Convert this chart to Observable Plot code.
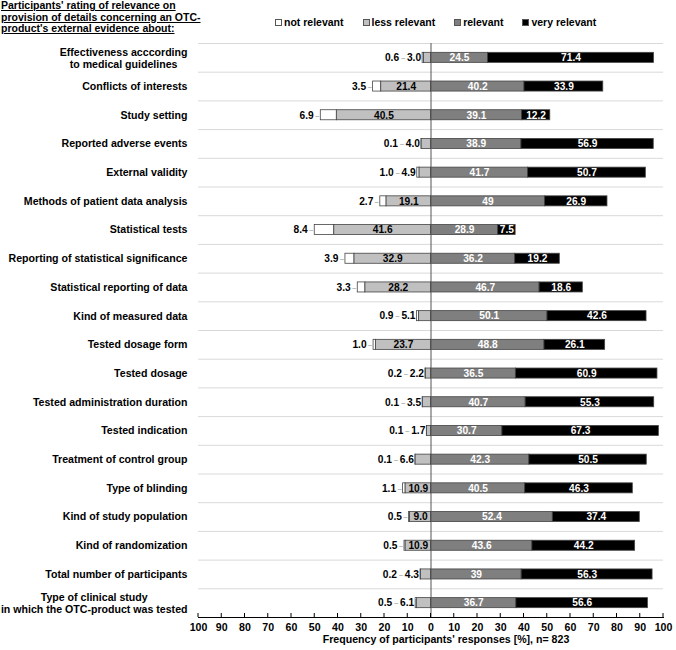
<!DOCTYPE html>
<html>
<head>
<meta charset="utf-8">
<script src="https://cdn.jsdelivr.net/npm/d3@7"></script>
<script src="https://cdn.jsdelivr.net/npm/@observablehq/plot@0.6"></script>
<style>
  body { margin: 0; background: #fff; font-family: "Liberation Sans", Arial, sans-serif; }
  #wrap { position: relative; width: 676px; height: 650px; }
  #header { position: relative; height: 42px; }
  #title { position: absolute; left: 1px; top: 0px; font-weight: bold; font-size: 10.5px; line-height: 11.5px; text-decoration: underline; color: #000; }
  #legend { position: absolute; left: 275px; top: 16px; display: flex; gap: 19px; font-weight: bold; font-size: 10.5px; }
  .item { display: flex; align-items: center; gap: 2px; }
  .sw { width: 5px; height: 5px; border: 1px solid #555; display: inline-block; }
  svg { display: block; }
</style>
</head>
<body>
<div id="wrap">
  <div id="header">
    <div id="title">Participants' rating of relevance on<br>provision of details concerning an OTC-<br>product's external evidence about:</div>
    <div id="legend"></div>
  </div>
  <div id="chart"></div>
</div>
<script>
const categories = [
  "Effectiveness acccording\nto medical guidelines",
  "Conflicts of interests",
  "Study setting",
  "Reported adverse events",
  "External validity",
  "Methods of patient data analysis",
  "Statistical tests",
  "Reporting of statistical significance",
  "Statistical reporting of data",
  "Kind of measured data",
  "Tested dosage form",
  "Tested dosage",
  "Tested administration duration",
  "Tested indication",
  "Treatment of control group",
  "Type of blinding",
  "Kind of study population",
  "Kind of randomization",
  "Total number of participants",
  "Type of clinical study\nin which the OTC-product was tested"
];
const notRelevant  = [0.6, 3.5, 6.9, 0.1, 1.0, 2.7, 8.4, 3.9, 3.3, 0.9, 1.0, 0.2, 0.1, 0.1, 0.1, 1.1, 0.5, 0.5, 0.2, 0.5];
const lessRelevant = [3.0, 21.4, 40.5, 4.0, 4.9, 19.1, 41.6, 32.9, 28.2, 5.1, 23.7, 2.2, 3.5, 1.7, 6.6, 10.9, 9.0, 10.9, 4.3, 6.1];
const relevant     = [24.5, 40.2, 39.1, 38.9, 41.7, 49, 28.9, 36.2, 46.7, 50.1, 48.8, 36.5, 40.7, 30.7, 42.3, 40.5, 52.4, 43.6, 39, 36.7];
const veryRelevant = [71.4, 33.9, 12.2, 56.9, 50.7, 26.9, 7.5, 19.2, 18.6, 42.6, 26.1, 60.9, 55.3, 67.3, 50.5, 46.3, 37.4, 44.2, 56.3, 56.6];
const seriesNames  = ["not relevant", "less relevant", "relevant", "very relevant"];
const seriesColors = ["#ffffff", "#c0c0c0", "#7f7f7f", "#000000"];
const xTicks = d3.range(-100, 101, 10);
const axisTitle = "Frequency of participants' responses [%], n= 823";

// legend
const legend = document.getElementById("legend");
seriesNames.forEach((n, i) => {
  const it = document.createElement("div"); it.className = "item";
  const sw = document.createElement("span"); sw.className = "sw"; sw.style.background = seriesColors[i];
  const tx = document.createElement("span"); tx.textContent = n;
  it.append(sw, tx); legend.append(it);
});

const rows = categories.map((c, i) => ({
  cat: c, not: notRelevant[i], less: lessRelevant[i], rel: relevant[i], very: veryRelevant[i]
}));
const segments = rows.flatMap(r => [
  {cat: r.cat, x1: -(r.not + r.less), x2: -r.less, k: seriesNames[0]},
  {cat: r.cat, x1: -r.less, x2: 0, k: seriesNames[1]},
  {cat: r.cat, x1: 0, x2: r.rel, k: seriesNames[2]},
  {cat: r.cat, x1: r.rel, x2: r.rel + r.very, k: seriesNames[3]}
]);

const W = 676, H = 608, mT = 1, mB = 33, mL = 198, mR = 13;
const step = (H - mT - mB) / categories.length;
const fmt1 = v => v.toFixed(1);
const fmtRel = v => Number.isInteger(v) ? String(v) : v.toFixed(1);
const inside = 8;
const lessIn = rows.filter(r => r.less >= inside);
const lessOut = rows.filter(r => r.less < inside);

// category label layout (multi-line blocks are centred on their longest line)
const labelFont = "bold 10.6px 'Liberation Sans', Arial, sans-serif";
const ctx = document.createElement("canvas").getContext("2d");
ctx.font = labelFont;
const single = categories.filter(c => !c.includes("\n"));
const multi = categories.filter(c => c.includes("\n"));
const labelMarks = [
  Plot.text(single, {y: d => d, text: d => d, frameAnchor: "left", textAnchor: "end", dx: -11, fontWeight: "bold", fontSize: 10.6})
].concat(multi.map(c => {
  const w = d3.max(c.split("\n"), s => ctx.measureText(s).width);
  return Plot.text([c], {y: d => d, text: d => d, frameAnchor: "left", textAnchor: "middle", dx: -11 - w / 2, fontWeight: "bold", fontSize: 10.6, lineHeight: 1.13});
}));

function ticksMark(index, scales, values, dims) {
  const g = d3.create("svg:g");
  const y0 = dims.height - dims.marginBottom;
  g.selectAll("line").data(xTicks).join("line")
    .attr("x1", d => scales.x(d)).attr("x2", d => scales.x(d))
    .attr("y1", y0).attr("y2", y0 - 4)
    .attr("stroke", "#000").attr("stroke-width", 1);
  return g.node();
}

const vf = 10.2;
const chart = Plot.plot({
  width: W, height: H,
  marginTop: mT, marginBottom: mB, marginLeft: mL, marginRight: mR,
  style: {fontFamily: "'Liberation Sans', Arial, sans-serif", fontSize: "10.6px", color: "#000"},
  x: {domain: [-100, 100]},
  y: {domain: categories, paddingInner: 0.65, paddingOuter: 0.325, round: false, axis: null},
  color: {domain: seriesNames, range: seriesColors},
  marks: [
    Plot.ruleY(categories, {y: d => d, dy: -step / 2, stroke: "#d9d9d9", strokeWidth: 1}),
    Plot.barX(segments, {y: "cat", x1: "x1", x2: "x2", fill: "k", stroke: "#444", strokeWidth: 0.8}),
    Plot.ruleX([0], {stroke: "#555", strokeWidth: 1}),
    Plot.frame({anchor: "bottom", stroke: "#000"}),
    ticksMark,
    Plot.axisX({ticks: xTicks, tickFormat: d => Math.abs(d), tickSize: 0, tickPadding: 6, fontWeight: "bold", fontSize: 10.6, label: null}),
    Plot.text([axisTitle], {frameAnchor: "bottom", dy: 25, dx: 15, fontWeight: "bold", fontSize: 10.6}),
    ...labelMarks,
    // less relevant labels
    Plot.text(lessIn, {y: "cat", x: r => -r.less / 2, text: r => fmt1(r.less), fill: "#000", fontWeight: "bold", fontSize: vf}),
    Plot.text(lessOut, {y: "cat", x: r => -(r.not + r.less), text: r => fmt1(r.less), textAnchor: "end", dx: -1.5, fill: "#000", fontWeight: "bold", fontSize: vf}),
    // not relevant labels
    Plot.text(lessIn, {y: "cat", x: r => -(r.not + r.less), text: r => fmt1(r.not), textAnchor: "end", dx: -7, fill: "#000", fontWeight: "bold", fontSize: vf}),
    Plot.text(lessOut, {y: "cat", x: r => -(r.not + r.less), text: r => fmt1(r.not), textAnchor: "end", dx: -23.5, fill: "#000", fontWeight: "bold", fontSize: vf}),
    // leaders
    Plot.text(lessIn, {y: "cat", x: r => -(r.not + r.less), text: () => "–", textAnchor: "middle", dx: -3.5, fill: "#888", fontSize: 7}),
    Plot.text(lessOut, {y: "cat", x: r => -(r.not + r.less), text: () => "–", textAnchor: "middle", dx: -19.5, fill: "#888", fontSize: 7}),
    // relevant / very relevant labels
    Plot.text(rows, {y: "cat", x: r => r.rel / 2, text: r => fmtRel(r.rel), fill: "#fff", fontWeight: "bold", fontSize: vf}),
    Plot.text(rows, {y: "cat", x: r => r.rel + r.very / 2, text: r => fmt1(r.very), fill: "#fff", fontWeight: "bold", fontSize: vf})
  ]
});
document.getElementById("chart").append(chart);
</script>
</body>
</html>
